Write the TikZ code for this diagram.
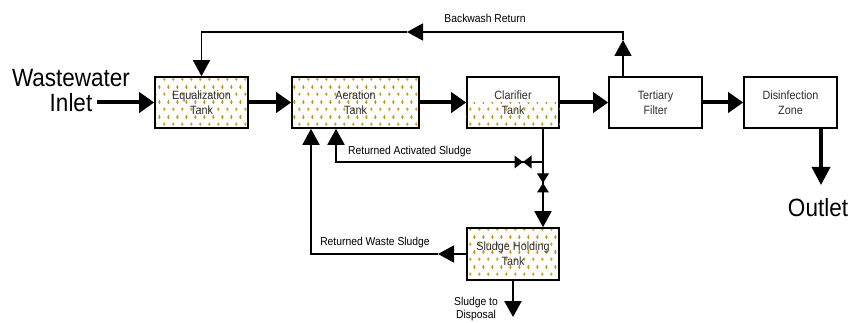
\documentclass[tikz,border=0pt]{standalone}
\usepackage{fontspec}
\setmainfont{Liberation Sans}[FakeStretch=0.9]
\usetikzlibrary{arrows.meta,patterns.meta}

\definecolor{dotgold}{RGB}{200,150,20}
\definecolor{boxtext}{RGB}{45,45,45}

% little gold crosses for the tanks
\tikzdeclarepattern{
  name=plusdots,
  type=uncolored,
  bottom left={(0pt,0pt)},
  top right={(9pt,15pt)},
  tile size={(9pt,15pt)},
  code={
    \draw[line width=1pt] (1pt,4pt) -- (4pt,4pt) (2.5pt,2pt) -- (2.5pt,6pt)
      (5.5pt,11.5pt) -- (8.5pt,11.5pt) (7pt,9.5pt) -- (7pt,13.5pt);
  }
}

\tikzset{
  unit/.style={draw, line width=1.6pt, minimum width=93pt, minimum height=51pt,
    align=center, inner sep=0pt, text=boxtext, font=\fontsize{12}{15}\selectfont},
  tank/.style={unit, pattern=plusdots, pattern color=dotgold},
  flow/.style={line width=4pt, -{Triangle[length=15pt,width=20pt]}},
  pipe/.style={line width=1.8pt, -{Triangle[length=16pt,width=17pt]}},
  tag/.style={font=\fontsize{11.5}{13}\selectfont, align=center, inner sep=0pt},
  big/.style={font=\fontsize{25}{25}\selectfont, align=center, inner sep=0pt}
}

\begin{document}
\begin{tikzpicture}[x=1pt,y=-1pt]
\useasboundingbox (0,0) rectangle (851,323);

% process units
\node[tank] (eq) at (201.5,102.5) {Equalization\\Tank};
\node[tank, minimum width=127pt] (aer) at (355.5,102.5) {Aeration\\Tank};
\node[unit, minimum width=92pt] (clar) at (513,102.5) {Clarifier\\Tank};
\fill[pattern=plusdots, pattern color=dotgold] (clar.west) rectangle (clar.south east);
\node[unit] (tert) at (655.5,102.5) {Tertiary\\Filter};
\node[unit] (dis) at (790.5,102.5) {Disinfection\\Zone};
\node[tank, minimum width=92pt, minimum height=52pt] (shold) at (513,254) {Sludge Holding\\Tank};

% inlet and outlet
\node[big] (inlet) at (71,91) {Wastewater\\Inlet};
\coordinate (inl) at (97,102.5);
\coordinate (outl) at (821,185);
\node[big] (outlet) at (818,208) {Outlet};

% main flow
\draw[flow] (inl) -- (eq.west);
\draw[flow] (eq.east) -- (aer.west);
\draw[flow] (aer.east) -- (clar.west);
\draw[flow] (clar.east) -- (tert.west);
\draw[flow] (tert.east) -- (dis.west);
\draw[line width=3.5pt, -{Triangle[length=18pt,width=18pt]}] (outl |- dis.south) -- (outl);

% backwash return
\coordinate (bwup) at (623,40);
\coordinate (bwtr) at (623,32);
\coordinate (bwmid) at (407,32);
\coordinate (bwtl) at (201.5,32);
\draw[pipe] (bwup |- tert.north) -- (bwup);
\draw[pipe] (bwup) -- (bwtr) -- (bwmid);
\draw[pipe] (bwmid) -- (bwtl) -- (eq.north);
\node[tag] (bwtag) at (485,18) {Backwash Return};

% returned activated sludge
\coordinate (ras) at (543,162);
\coordinate (rasv) at (523,162);
\coordinate (rast) at (336,162);
\coordinate (sldv) at (543,183);
\draw[pipe] (clar.south -| ras) -- (ras) -- (rast) -- (rast |- aer.south);
\draw[pipe] (ras) -- (ras |- shold.north);
\fill (rasv) +(-8.5,-6.5) -- +(8.5,6.5) -- +(8.5,-6.5) -- +(-8.5,6.5) -- cycle;
\fill (sldv) +(-6,-9.5) -- +(6,9.5) -- +(-6,9.5) -- +(6,-9.5) -- cycle;
\node[tag, anchor=west] (rastag) at (348,152) {Returned Activated Sludge};

% returned waste sludge
\coordinate (was) at (438,254);
\coordinate (wasl) at (311,254);
\draw[pipe] (shold.west) -- (was);
\draw[pipe] (was) -- (wasl) -- (wasl |- aer.south);
\node[tag] (wastag) at (375,243) {Returned Waste Sludge};

% sludge to disposal
\coordinate (disp) at (513,317);
\draw[line width=2.5pt, -{Triangle[length=16pt,width=17pt]}] (shold.south) -- (disp);
\node[tag] (disptag) at (476,309) {Sludge to\\Disposal};
\end{tikzpicture}
\end{document}
